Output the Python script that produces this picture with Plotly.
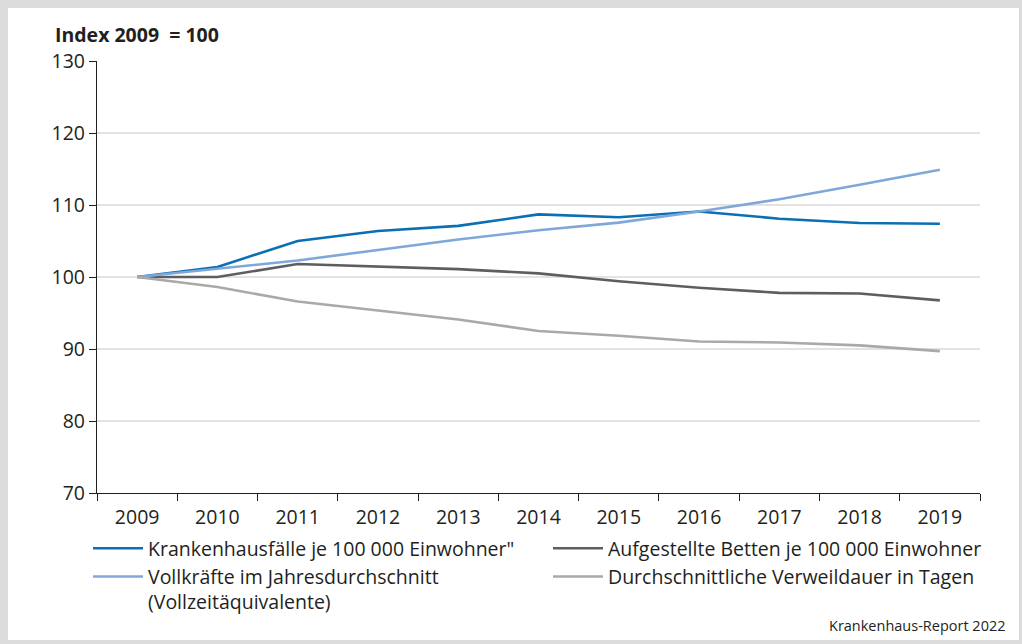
import plotly.graph_objects as go

years = ["2009", "2010", "2011", "2012", "2013", "2014", "2015", "2016", "2017", "2018", "2019"]
faelle = [100, 101.4, 105.0, 106.4, 107.1, 108.7, 108.3, 109.1, 108.1, 107.5, 107.4]
betten = [100, 100.0, 101.8, 101.4, 101.1, 100.5, 99.4, 98.5, 97.8, 97.7, 96.75]
vollkraefte = [100, 101.1, 102.3, 103.75, 105.2, 106.5, 107.55, 109.1, 110.8, 112.8, 114.9]
verweildauer = [100, 98.6, 96.6, 95.4, 94.1, 92.5, 91.85, 91.05, 90.9, 90.5, 89.7]

names = [
    "Krankenhausfälle je 100 000 Einwohner\"",
    "Aufgestellte Betten je 100 000 Einwohner",
    "Vollkräfte im Jahresdurchschnitt<br>(Vollzeitäquivalente)",
    "Durchschnittliche Verweildauer in Tagen",
]
series = [faelle, betten, vollkraefte, verweildauer]
colors = ["#0b6fb3", "#5e5e5e", "#7fa8d9", "#a9a9a9"]

FONT = "Open Sans"
FS = 19.5
fig = go.Figure()
for n, s, c in zip(names, series, colors):
    fig.add_trace(go.Scatter(x=years, y=s, name=n, mode="lines",
                             line=dict(color=c, width=2.6)))

L, R, T, B = 97, 42, 61, 151
W, H = 1022, 644
pw, ph = W - L - R, H - T - B

def px(xp):
    return (xp - L) / pw

def py(yp):
    return (H - B - yp) / ph

fig.update_layout(
    width=W, height=H,
    margin=dict(l=L, r=R, t=T, b=B, pad=0, autoexpand=False),
    paper_bgcolor="#dcdcdc",
    plot_bgcolor="white",
    font=dict(family=FONT, size=FS, color="#231f20"),
    showlegend=True,
    legend=dict(orientation="h", x=px(88), y=py(529), xanchor="left", yanchor="top",
                entrywidth=395, entrywidthmode="pixels", tracegroupgap=0,
                font=dict(size=FS, color="#231f20"), bgcolor="rgba(0,0,0,0)",
                itemwidth=50, valign="top"),
    shapes=[dict(type="rect", xref="paper", yref="paper", layer="below",
                 x0=px(8), x1=px(1019), y0=py(640), y1=py(8),
                 fillcolor="white", line=dict(width=0))],
    annotations=[
        dict(text="<b>Index 2009  = 100</b>", xref="paper", yref="paper",
             x=px(53), y=py(34), xanchor="left", yanchor="middle", showarrow=False,
             font=dict(size=FS, color="#231f20")),
        dict(text="Krankenhaus-Report 2022", xref="paper", yref="paper",
             x=px(1008), y=py(625), xanchor="right", yanchor="middle", showarrow=False,
             font=dict(size=14.5, color="#231f20")),
    ],
)
fig.update_xaxes(type="category", range=[-0.5, 10.5], showline=True, linecolor="#231f20",
                 linewidth=1.2, ticks="outside", tickson="boundaries", ticklen=7,
                 tickcolor="#231f20", tickwidth=1.2, showgrid=False, zeroline=False,
                 tickfont=dict(size=FS), ticklabelstandoff=6)
fig.update_yaxes(range=[70, 130], tickvals=[70, 80, 90, 100, 110, 120, 130],
                 showline=True, linecolor="#231f20", linewidth=1.2, ticks="outside",
                 ticklen=7, tickcolor="#231f20", tickwidth=1.2, showgrid=True,
                 gridcolor="#e3e3e3", gridwidth=1.5, zeroline=False,
                 tickfont=dict(size=FS))

fig.write_html("out.html")
